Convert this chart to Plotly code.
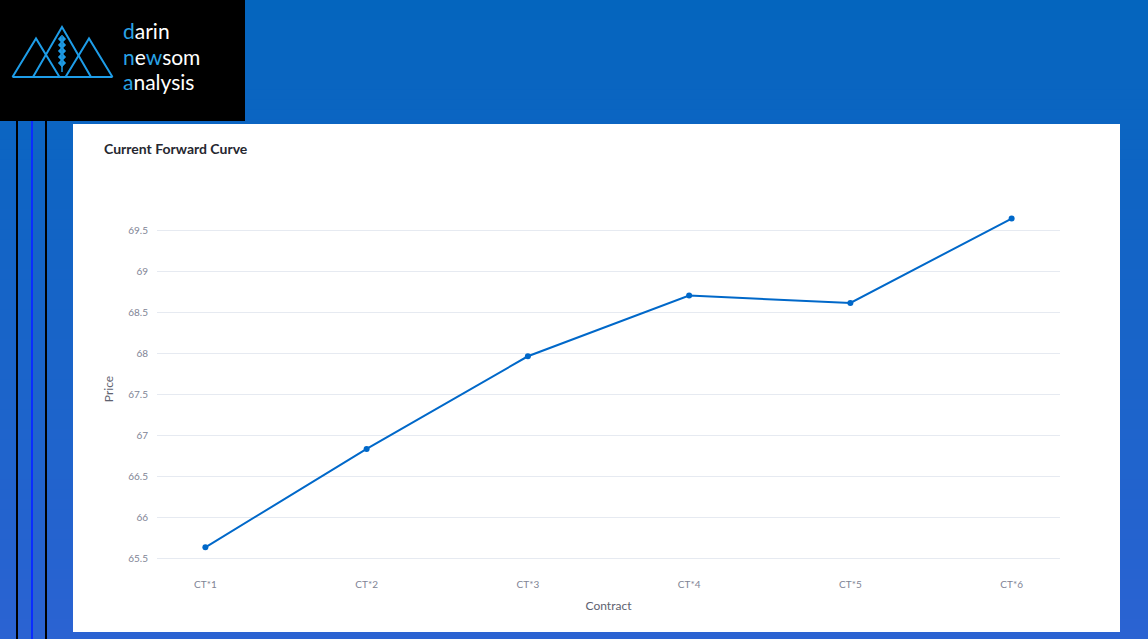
import plotly.graph_objects as go

# ---- data ----
contracts = ["CT*1", "CT*2", "CT*3", "CT*4", "CT*5", "CT*6"]
prices = [65.63, 66.83, 67.96, 68.70, 68.61, 69.64]
y_ticks = [65.5, 66, 66.5, 67, 67.5, 68, 68.5, 69, 69.5]
y_tick_labels = ["65.5", "66", "66.5", "67", "67.5", "68", "68.5", "69", "69.5"]
chart_title = "Current Forward Curve"

W, H = 1148, 639


def px(x):
    return x / W


def py(y):
    return 1 - y / H


def lerp_color(c1, c2, t):
    return "rgb(%d,%d,%d)" % tuple(round(a + (b - a) * t) for a, b in zip(c1, c2))


shapes = []
# background gradient
top_c, bot_c = (4, 101, 190), (43, 99, 210)
n = 64
for i in range(n):
    shapes.append(dict(type="rect", xref="paper", yref="paper", x0=0, x1=1,
                       y0=1 - (i + 1) / n - 0.002, y1=1 - i / n,
                       fillcolor=lerp_color(top_c, bot_c, (i + 0.5) / n),
                       line=dict(width=0), layer="below"))
# black logo box
shapes.append(dict(type="rect", xref="paper", yref="paper", x0=0, x1=px(245), y0=py(121), y1=1,
                   fillcolor="#000000", line=dict(width=0), layer="below"))
# vertical lines
for x, c in [(17, "#000000"), (32, "#0a2cff"), (46, "#000000")]:
    shapes.append(dict(type="line", xref="paper", yref="paper", x0=px(x), x1=px(x), y0=0, y1=py(121),
                       line=dict(color=c, width=2), layer="below"))
# white panel
shapes.append(dict(type="rect", xref="paper", yref="paper", x0=px(73), x1=px(1120), y0=py(632), y1=py(124),
                   fillcolor="#ffffff", line=dict(width=0), layer="below"))

# logo triangles
tri_col = "#1e9de8"


def path(pts, close=True):
    s = "M " + " L ".join("%f,%f" % (px(a), py(b)) for a, b in pts)
    return s + (" Z" if close else "")


for apex, hw, base in [((36, 38.5), 23.5, 77), ((62, 27), 29, 77), ((89, 38.5), 23.5, 77)]:
    ax, ay = apex
    shapes.append(dict(type="path", xref="paper", yref="paper",
                       path=path([(ax - hw, base), (ax, ay), (ax + hw, base)], close=False),
                       line=dict(color=tri_col, width=2)))
shapes.append(dict(type="line", xref="paper", yref="paper", x0=px(12.5), x1=px(112.5), y0=py(77), y1=py(77),
                   line=dict(color=tri_col, width=2)))
# wheat stalk
shapes.append(dict(type="line", xref="paper", yref="paper", x0=px(62), x1=px(62), y0=py(35), y1=py(72),
                   line=dict(color=tri_col, width=1.5)))
for yy in [40, 46, 52, 58, 64]:
    for dx in (-2.4, 2.4):
        shapes.append(dict(type="path", xref="paper", yref="paper",
                           path=path([(62, yy + 3), (62 + dx * 1.6, yy - 1), (62 + dx * 0.4, yy - 4)]),
                           fillcolor=tri_col, line=dict(color=tri_col, width=0.5)))

blue = "#29a3e6"
wh = "#ffffff"
logo_lines = [
    "<span style='color:%s'>d</span>arin" % blue,
    "<span style='color:%s'>n</span>e<span style='color:%s'>w</span>som" % (blue, blue),
    "<span style='color:%s'>a</span>nalysis" % blue,
]
annotations = []
for txt, yy in zip(logo_lines, [30, 56, 82]):
    annotations.append(dict(text=txt, xref="paper", yref="paper", x=px(121), y=py(yy),
                            xanchor="left", yanchor="middle", showarrow=False,
                            font=dict(family="Lato", size=21, color=wh)))
annotations.append(dict(text="<b>%s</b>" % chart_title, xref="paper", yref="paper", x=px(102), y=py(148),
                        xanchor="left", yanchor="middle", showarrow=False,
                        font=dict(family="Lato", size=14, color="#262730")))

fig = go.Figure(go.Scatter(
    x=contracts, y=prices, mode="lines+markers",
    line=dict(color="#0068c9", width=2),
    marker=dict(color="#0068c9", size=6),
    showlegend=False,
))

fig.update_layout(
    width=W, height=H,
    margin=dict(l=0, r=0, t=0, b=0),
    paper_bgcolor="#1565c0",
    plot_bgcolor="rgba(0,0,0,0)",
    shapes=shapes,
    annotations=annotations,
    font=dict(family="Lato", color="#808495"),
    xaxis=dict(domain=[px(157), px(1060)], range=[-0.3, 5.3], showgrid=False, zeroline=False,
               showline=False, ticks="", tickfont=dict(size=10, color="#808495"), ticklabelstandoff=9,
               title=dict(text="Contract", font=dict(size=12, color="#60626f"), standoff=12)),
    yaxis=dict(domain=[py(568), py(210)], range=[65.378, 69.744], tickvals=y_ticks, ticktext=y_tick_labels,
               gridcolor="#e6eaf1", gridwidth=1, zeroline=False, showline=False, ticks="",
               tickfont=dict(size=10, color="#808495"), ticklabelstandoff=8,
               title=dict(text="Price", font=dict(size=12, color="#60626f"), standoff=12)),
)

fig.write_html("out.html", config={"displayModeBar": False},
               post_script="document.body.style.margin='0';document.body.style.padding='0';")
